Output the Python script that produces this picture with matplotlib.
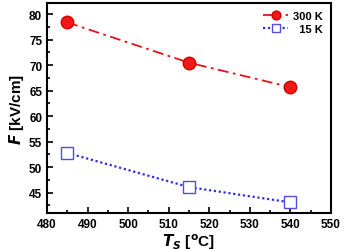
import matplotlib.pyplot as plt
from matplotlib.ticker import MultipleLocator

plt.rcParams["font.family"] = ["Liberation Sans", "DejaVu Sans"]
plt.rcParams["font.weight"] = "bold"

# substrate temperature (deg C)
temps = [485, 515, 540]
# field values (kV/cm)
field_300k = [78.4, 70.5, 65.7]
field_15k = [52.8, 46.1, 43.1]

fig = plt.figure(figsize=(3.43, 2.51), dpi=100)
ax = fig.add_axes([0.137, 0.147, 0.828, 0.837])

ax.plot(temps, field_300k, color="#e8101a", ls=(0, (6, 2.5, 1.5, 2.5)), lw=1.3,
        marker="o", ms=9, mfc="#f01a1a", mec="#d00000", label="300 K")
ax.plot(temps, field_15k, color="#3030d8", ls=(0, (1, 1.2)), lw=1.6,
        marker="s", ms=8, mfc="white", mec="#5050e0", mew=1.0, label="15 K")

ax.set_xlim(480, 550)
ax.set_ylim(41, 82.2)
ax.xaxis.set_major_locator(MultipleLocator(10))
ax.xaxis.set_minor_locator(MultipleLocator(5))
ax.yaxis.set_major_locator(MultipleLocator(5))
ax.yaxis.set_minor_locator(MultipleLocator(2.5))
ax.tick_params(which="both", direction="in", width=1.2, labelsize=8.5)
ax.tick_params(which="major", length=4)
ax.tick_params(which="minor", length=2.5)
for s in ax.spines.values():
    s.set_linewidth(1.5)

ax.set_ylabel(r"$\bfit{F}$ [kV/cm]", fontsize=11, fontweight="bold", labelpad=2)
ax.set_xlabel(r"$\bfit{T}_{\bfit{S}}$ [$^{\rm o}$C]", fontsize=11, fontweight="bold", labelpad=1)

leg = ax.legend(loc="upper right", frameon=False, fontsize=8, handlelength=2.2,
                markerscale=0.7, borderaxespad=0.3, labelspacing=0.3, handletextpad=0.5)
# right-align the legend labels like the original
texts = leg.get_texts()
w = max(len(t.get_text()) for t in texts)
for t in texts:
    t.set_text(t.get_text().rjust(w, "\u2007"))

fig.savefig("out.png", dpi=100)
